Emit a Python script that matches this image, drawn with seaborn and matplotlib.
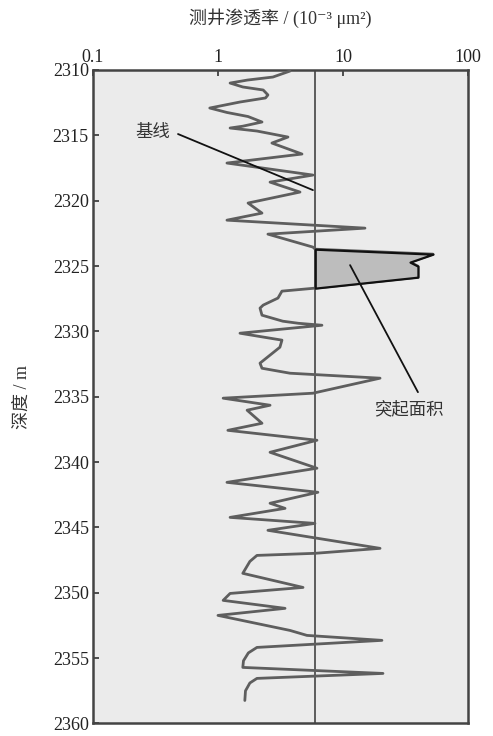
import numpy as np
import pandas as pd
import matplotlib
matplotlib.use("Agg")
import matplotlib.pyplot as plt
import seaborn as sns
from matplotlib.ticker import FixedLocator, FixedFormatter, NullLocator

# Well-log permeability (10^-3 um^2) against depth (m)
depth = [2310.08, 2310.54, 2310.77, 2311.00, 2311.30, 2311.53, 2311.91, 2312.14,
         2312.45, 2312.91, 2313.25, 2313.56, 2313.98, 2314.30, 2314.44, 2314.67,
         2315.13, 2315.59,
         2316.43, 2317.12, 2318.04, 2318.58, 2319.34, 2320.18, 2320.95, 2321.49,
         2322.10, 2322.56, 2323.55, 2323.71, 2324.09, 2324.70, 2325.01, 2325.85,
         2326.69, 2326.92, 2327.45, 2327.99, 2328.22, 2328.76, 2329.22, 2329.38,
         2329.53, 2330.14,
         2330.67, 2331.21, 2332.43, 2332.82, 2333.20, 2333.58, 2334.73, 2335.11,
         2335.65, 2336.03, 2337.03, 2337.57, 2338.33, 2339.25, 2340.47, 2341.55,
         2342.31, 2343.15, 2343.54, 2344.23, 2344.69, 2345.22, 2346.60, 2346.98,
         2347.14, 2347.60, 2348.51, 2349.59, 2350.05, 2350.58, 2351.19, 2351.73,
         2352.88, 2353.26, 2353.64, 2354.18, 2354.60, 2355.20, 2355.71, 2356.17,
         2356.55, 2356.90, 2357.50, 2358.24]
perm = [3.77, 2.75, 1.72, 1.25, 1.58, 2.30, 2.51, 2.40,
        1.50, 0.86, 1.18, 1.74, 2.25, 1.58, 1.25, 2.05,
        3.63, 2.70,
        4.70, 1.18, 5.75, 2.61, 4.53, 1.74, 2.25, 1.18,
        15.0, 2.51, 5.75, 6.0, 52.5, 34.4, 39.8, 39.8,
        6.0, 3.25, 3.02, 2.30, 2.17, 2.25, 3.30, 4.40,
        6.79, 1.50,
        3.25, 3.13, 2.17, 2.25, 3.77, 19.8, 5.75, 1.10,
        2.61, 1.71, 2.25, 1.20, 6.19, 2.61, 6.19, 1.18,
        6.30, 2.61, 3.44, 1.25, 5.97, 2.51, 19.8, 5.97,
        2.05, 1.80, 1.58, 4.79, 1.25, 1.10, 3.44, 1.00,
        3.77, 5.15, 20.5, 2.05, 1.75, 1.60, 1.58, 20.9,
        2.05, 1.80, 1.66, 1.64]

baseline = 6.0
spike_depth = [2323.71, 2324.09, 2324.70, 2325.01, 2325.85, 2326.69]
spike_perm = [6.0, 52.5, 34.4, 39.8, 39.8, 6.0]

x_ticks = [0.1, 1, 10, 100]
x_ticklabels = ["0.1", "1", "10", "100"]
y_ticks = list(range(2310, 2361, 5))

sns.set_theme(style="ticks")
font_list = ["Liberation Serif", "Noto Sans CJK SC", "DejaVu Sans"]
plt.rcParams["font.family"] = font_list

fig = plt.figure(figsize=(4.93, 7.36), dpi=100)
fig.patch.set_facecolor("white")
ax = fig.add_axes([0.1886, 0.017, 0.7606, 0.8879])
ax.set_facecolor("#ebebeb")

df = pd.DataFrame({"depth": depth, "perm": perm})
sns.lineplot(data=df, x="perm", y="depth", sort=False, estimator=None,
             color="#5e5e5e", linewidth=2.0, ax=ax, zorder=3)
for ln in ax.lines:
    ln.set_solid_joinstyle("round")

# Baseline
ax.axvline(baseline, color="#505050", linewidth=1.3, zorder=2)

# Protruding area above the baseline
ax.fill_betweenx(spike_depth, baseline, spike_perm, color="#bdbdbd",
                 edgecolor="#111111", linewidth=1.6, zorder=4)

ax.set_xscale("log")
ax.set_xlim(0.1, 100)
ax.set_ylim(2360, 2310)

ax.xaxis.set_ticks_position("top")
ax.xaxis.set_label_position("top")
ax.xaxis.set_major_locator(FixedLocator(x_ticks))
ax.xaxis.set_major_formatter(FixedFormatter(x_ticklabels))
ax.xaxis.set_minor_locator(NullLocator())
ax.set_yticks(y_ticks)
ax.tick_params(axis="both", direction="in", length=4, width=1.2, colors="#333333",
               labelsize=13, labelcolor="#222222", pad=3)
ax.tick_params(axis="y", left=True, right=False)

for s in ax.spines.values():
    s.set_visible(True)
    s.set_linewidth(1.8)
    s.set_color("#444444")

ax.set_xlabel("测井渗透率 / (10⁻³ μm²)", fontsize=13, color="#333333",
              labelpad=18, family=font_list)
ax.set_ylabel("深度 / m", fontsize=13, color="#333333", labelpad=16,
              family=font_list)

# Annotations
ax.text(0.30, 2314.82, "基线", fontsize=12.5, color="#333333",
        ha="center", va="center", zorder=6)
ax.plot([0.479, 5.75], [2314.9, 2319.19], color="#111111", lw=1.3, zorder=6)
ax.text(33.7, 2336.03, "突起面积", fontsize=12.5, color="#333333",
        ha="center", va="center", zorder=6)
ax.plot([11.4, 39.8], [2324.93, 2334.65], color="#111111", lw=1.3, zorder=6)

fig.savefig("out.png", dpi=100, facecolor="white")
